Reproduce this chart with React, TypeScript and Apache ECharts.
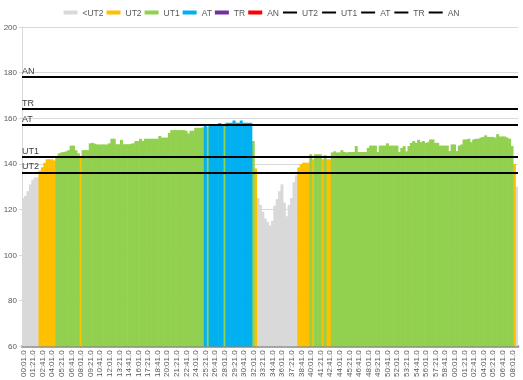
import React, { useEffect, useRef } from "react";
import * as echarts from "echarts";

// Heart-rate samples, one every 20 s starting at 00:01.0
const heartRate: number[] = [
  125, 126, 128, 131, 133, 134, 134, 137, 138.5, 140.5,
  142, 142, 142, 141.5, 143.4, 144.6, 145, 145.2, 145.5, 146,
  148, 148, 146, 144.6, 142.8, 146, 146, 146, 149, 149.2,
  148.8, 148.5, 148.5, 148.5, 148.5, 148.5, 149, 151, 151, 148.6,
  148.6, 150.5, 148.6, 148.6, 148.6, 148.8, 149, 150, 150, 151,
  150, 151, 151, 151, 151, 151, 151, 152.2, 151.5, 151.5,
  151.5, 153.6, 154.8, 154.8, 154.8, 154.8, 154.8, 154.8, 154.5, 153.3,
  154.5, 154.5, 155.8, 155.8, 155.8, 156, 157.2, 156.2, 157.2, 157.2,
  157.2, 157.2, 157.9, 157.2, 156.8, 158, 158, 158, 159, 158,
  158, 159, 158, 158, 158, 158, 150, 138, 125, 122,
  119, 116, 114.5, 113, 115, 121.6, 124.5, 128, 131, 123,
  117, 122, 125, 132, 135, 138.4, 139.8, 140.5, 140.5, 140.5,
  144.2, 142, 144.2, 144.2, 144.2, 142, 143.8, 142, 142, 145,
  145.5, 145, 145, 146, 145.2, 145, 145.2, 145.2, 145.2, 147.8,
  145.2, 145.2, 145.2, 145.2, 147, 148, 148, 148, 145.2, 148,
  148, 148, 149, 148, 148, 148, 148, 145.2, 147, 147.8,
  145.5, 147.8, 149.2, 150, 149.2, 150.5, 149.5, 150, 149.2, 149.5,
  150.7, 150.7, 149.2, 149.2, 148, 148, 148, 148, 145.6, 148.5,
  148.5, 145.6, 148, 148.5, 150.7, 150.7, 151, 149.5, 150.7, 151,
  151, 151.5, 151.8, 152.5, 151.8, 151.8, 151.8, 151.5, 153, 152,
  152, 152, 151.5, 151, 147.8, 140, 130,
];

const sampleStepSeconds = 20;
const firstSampleSeconds = 1;

// Time labels (mm:ss.0, minutes wrap after the hour)
const categories: string[] = heartRate.map((_, i) => {
  const t = firstSampleSeconds + i * sampleStepSeconds;
  const mm = Math.floor(t / 60) % 60;
  const ss = t % 60;
  return `${String(mm).padStart(2, "0")}:${String(ss).padStart(2, "0")}.0`;
});

// Zone thresholds (bpm)
const lineNames: string[] = ["UT2", "UT1", "AT", "TR", "AN"];
const lineValues: number[] = [136, 143, 157, 164, 178];

// Zone bars
const zoneNames: string[] = ["<UT2", "UT2", "UT1", "AT", "TR", "AN"];
const zoneColors: string[] = ["#d9d9d9", "#ffc000", "#92d050", "#00b0f0", "#7030a0", "#ff0000"];

const yTicks: number[] = [60, 200, 20];

export default function App() {
  const ref = useRef<HTMLDivElement>(null);

  useEffect(() => {
    if (!ref.current) return;
    const chart = echarts.init(ref.current, undefined, { renderer: "svg" });
    const bounds = [-Infinity, ...lineValues, Infinity];

    const barSeries = zoneNames.map((name, z) => ({
      name,
      type: "bar",
      barGap: "-100%",
      barWidth: "125%",
      itemStyle: { color: zoneColors[z] },
      emphasis: { disabled: true },
      data: heartRate.map((v) => (v >= bounds[z] && v < bounds[z + 1] ? v : "-")),
      z: 2,
    }));

    const lineSeries = lineNames.map((name, k) => ({
      name: name + " ",
      type: "line",
      symbol: "none",
      showSymbol: false,
      color: "#000000",
      lineStyle: { color: "#000000", width: 2 },
      data: [],
      markLine: {
        silent: true,
        symbol: "none",
        animation: false,
        lineStyle: { color: "#000000", width: 2, type: "solid" },
        label: {
          show: true,
          position: "insideStartTop",
          formatter: name,
          color: "#404040",
          fontSize: 9,
          fontFamily: "Liberation Sans",
          distance: [0, 2],
        },
        data: [{ yAxis: lineValues[k] }],
      },
      z: 5,
    }));

    chart.setOption({
      animation: false,
      textStyle: { fontFamily: "Liberation Sans" },
      legend: {
        top: 3,
        left: "center",
        itemWidth: 14,
        itemHeight: 4,
        itemGap: 3,
        textStyle: { fontSize: 8.5, color: "#595959", fontFamily: "Liberation Sans" },
        formatter: (n: string) => n.trim(),
        data: [
          ...zoneNames.map((n) => ({ name: n, icon: "rect" })),
          ...lineNames.map((n) => ({ name: n + " ", itemStyle: { opacity: 0 } })),
        ],
      },
      grid: { left: 22, right: 5, top: 27, bottom: 32 },
      xAxis: {
        type: "category",
        data: categories,
        boundaryGap: true,
        axisLine: { lineStyle: { color: "#898989", width: 2.5 } },
        axisTick: { show: false },
        axisLabel: {
          interval: 3,
          rotate: 90,
          fontSize: 8,
          color: "#595959",
          margin: 4,
        },
        splitLine: { show: false },
      },
      yAxis: {
        type: "value",
        min: yTicks[0],
        max: yTicks[1],
        interval: yTicks[2],
        axisLine: { show: true, lineStyle: { color: "#d9d9d9" } },
        axisTick: { show: true, length: 3, lineStyle: { color: "#d9d9d9" } },
        axisLabel: { fontSize: 8, color: "#595959", margin: 5 },
        splitLine: { lineStyle: { color: "#d9d9d9", width: 1 } },
      },
      series: [...barSeries, ...lineSeries],
    });
    return () => chart.dispose();
  }, []);

  return (
    <div
      ref={ref}
      style={{ position: "fixed", left: 0, top: 0, width: 523, height: 380 }}
    />
  );
}
